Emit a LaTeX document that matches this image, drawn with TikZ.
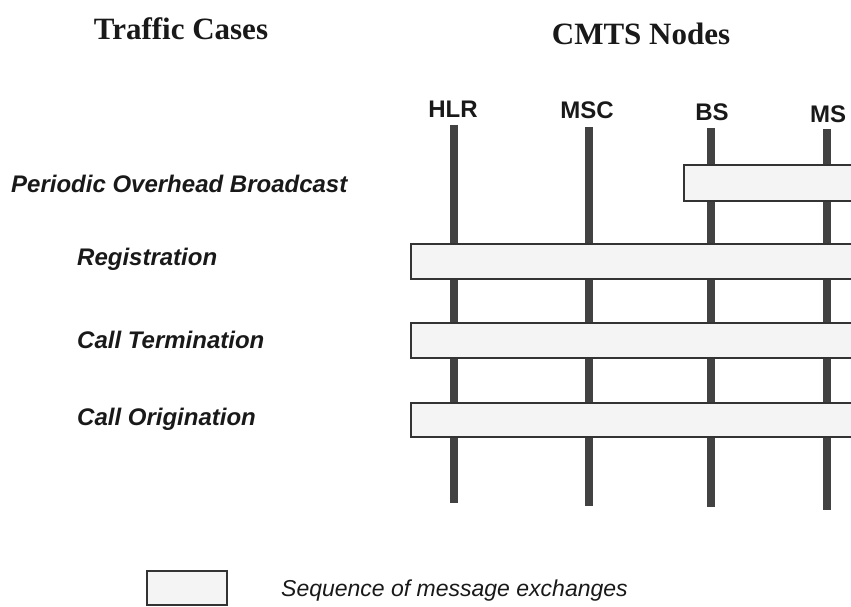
\documentclass[tikz,border=0pt]{standalone}
\usepackage{fontspec}
\setmainfont{Liberation Serif}
\setsansfont{Liberation Sans}
\usetikzlibrary{positioning}
\definecolor{cmLine}{RGB}{66,66,66}
\definecolor{cmBox}{RGB}{244,244,244}
\begin{document}
\begin{tikzpicture}[x=1pt, y=-1pt,
    heading/.style={font=\fontsize{31}{34}\selectfont\bfseries, text=black!90, inner sep=0pt},
    entity/.style={font=\sffamily\fontsize{24}{26}\selectfont\bfseries, text=black!90, inner sep=0pt},
    case/.style={font=\sffamily\fontsize{24}{26}\selectfont\bfseries\itshape, text=black!90, anchor=west, inner sep=0pt},
    legend/.style={font=\sffamily\fontsize{23}{26}\selectfont\itshape, text=black!90, anchor=west, inner sep=0pt},
    lifeline/.style={draw=cmLine, line width=8.5pt},
    msgbox/.style={draw=black!80, line width=2.8pt, fill=cmBox}
  ]
    \useasboundingbox (0,0) rectangle (851,607);
    \clip (0,0) rectangle (851,607);
    \node[heading, anchor=base] (traffic) at (181,40) {Traffic Cases};
    \node[heading, anchor=base] (cmts) at (641,45) {CMTS Nodes};
    % nodes and their lifelines
    \node[entity, anchor=base] (hlr) at (453,118) {HLR};
    \node[entity, anchor=base] (msc) at (587,119) {MSC};
    \node[entity, anchor=base] (bs) at (712,121) {BS};
    \node[entity, anchor=base] (ms) at (828,123) {MS};
    \coordinate (hlr-top) at (454,125);  \coordinate (hlr-bot) at (454,503);
    \coordinate (msc-top) at (589,127);  \coordinate (msc-bot) at (589,506);
    \coordinate (bs-top) at (711,128);   \coordinate (bs-bot) at (711,507);
    \coordinate (ms-top) at (827,129);   \coordinate (ms-bot) at (827,510);
    \draw[lifeline] (hlr-top) -- (hlr-bot);
    \draw[lifeline] (msc-top) -- (msc-bot);
    \draw[lifeline] (bs-top) -- (bs-bot);
    \draw[lifeline] (ms-top) -- (ms-bot);
    % traffic cases
    \node[case] (bcast) at (11,184) {Periodic Overhead Broadcast};
    \draw[msgbox] (684,165) rectangle (880,201);
    \node[case] (reg) at (77,259) {Registration};
    \draw[msgbox] (411,244) rectangle (880,279);
    \node[case] (term) at (77,340) {Call Termination};
    \draw[msgbox] (411,323) rectangle (880,358);
    \node[case] (orig) at (77,419) {Call Origination};
    \draw[msgbox] (411,403) rectangle (880,437);
    % legend
    \draw[msgbox] (147,571) rectangle (227,605);
    \node[legend] (seq) at (281,591) {Sequence of message exchanges};
\end{tikzpicture}
\end{document}
